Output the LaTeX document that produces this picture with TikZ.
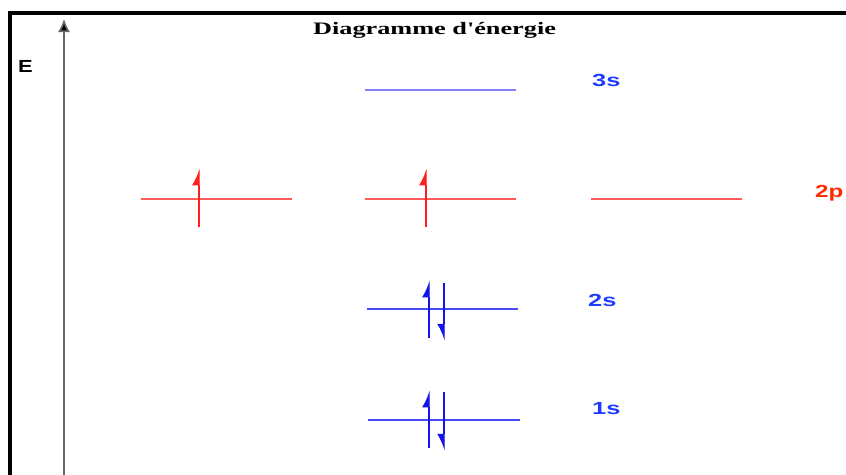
\documentclass[tikz,border=0pt]{standalone}
\usepackage{fontspec}
\setmainfont{Liberation Serif}
\setsansfont{Liberation Sans}
\usetikzlibrary{arrows.meta}
\definecolor{lvlblue}{HTML}{4A4AF5}
\definecolor{lvlblue3}{HTML}{8080FF}
\definecolor{arrblue}{HTML}{1414E6}
\definecolor{lblblue}{HTML}{1E3CFF}
\definecolor{lvlred}{HTML}{FF5A5A}
\definecolor{arrred}{HTML}{FF1E1E}
\definecolor{lblred}{HTML}{FF2A00}
\tikzset{
  lvl/.style={line width=1.2pt},
  spinup/.style={line width=1.4pt,-{Latex[harpoon,length=15pt,width=14pt]}},
  spindown/.style={line width=1.4pt,-{Latex[harpoon,swap,length=15pt,width=14pt]}},
  lbl/.style={inner sep=0pt,anchor=base west,font=\sffamily\bfseries\fontsize{17.5}{19}\selectfont},
}
\begin{document}
\begin{tikzpicture}[x=1pt,y=-1pt]
\useasboundingbox (0,0) rectangle (846,474);
\clip (0,0) rectangle (846,474);
% frame
\draw[line width=4pt] (10,480) -- (10,13) -- (850,13);
% energy axis
\coordinate (ax0) at (64,480);
\coordinate (ax1) at (64,19);
\draw[line width=1.6pt,draw=black!60,-{Latex[length=13pt,width=12pt,fill=black]}] (ax0) -- (ax1);
\node[inner sep=0pt,anchor=base west,font=\sffamily\bfseries\fontsize{17.5}{19}\selectfont] (E) at (18,72) {\scalebox{1.25}[1]{E}};
% title
\node[inner sep=0pt,anchor=base west,font=\rmfamily\bfseries\fontsize{17.5}{19}\selectfont] (title) at (313,34) {\scalebox{1.5}[1]{Diagramme d\textquotesingle énergie}};
% 3s
\coordinate (s3a) at (365,90); \coordinate (s3b) at (516,90);
\draw[lvl,lvlblue3] (s3a) -- (s3b);
\node[lbl,text=lblblue] (l3s) at (592,86) {\scalebox{1.45}[1]{3s}};
% 2p
\coordinate (p1a) at (141,199); \coordinate (p1b) at (292,199);
\coordinate (p2a) at (365,199); \coordinate (p2b) at (516,199);
\coordinate (p3a) at (591,199); \coordinate (p3b) at (742,199);
\draw[lvl,lvlred] (p1a) -- (p1b);
\draw[lvl,lvlred] (p2a) -- (p2b);
\draw[lvl,lvlred] (p3a) -- (p3b);
\coordinate (e1a) at (199,227); \coordinate (e1b) at (199,168);
\coordinate (e2a) at (426,227); \coordinate (e2b) at (426,168);
\draw[spinup,arrred] (e1a) -- (e1b);
\draw[spinup,arrred] (e2a) -- (e2b);
\node[lbl,text=lblred] (l2p) at (815,197) {\scalebox{1.38}[1]{2p}};
% 2s
\coordinate (s2a) at (367,309); \coordinate (s2b) at (518,309);
\draw[lvl,lvlblue] (s2a) -- (s2b);
\coordinate (u2a) at (429,338); \coordinate (u2b) at (429,280);
\coordinate (d2a) at (444,283); \coordinate (d2b) at (444,341);
\draw[spinup,arrblue] (u2a) -- (u2b);
\draw[spindown,arrblue] (d2a) -- (d2b);
\node[lbl,text=lblblue] (l2s) at (588,306) {\scalebox{1.45}[1]{2s}};
% 1s
\coordinate (s1a) at (368,420); \coordinate (s1b) at (520,420);
\draw[lvl,lvlblue] (s1a) -- (s1b);
\coordinate (u1a) at (429,448); \coordinate (u1b) at (429,390);
\coordinate (d1a) at (444,392); \coordinate (d1b) at (444,451);
\draw[spinup,arrblue] (u1a) -- (u1b);
\draw[spindown,arrblue] (d1a) -- (d1b);
\node[lbl,text=lblblue] (l1s) at (592,414) {\scalebox{1.45}[1]{1s}};
\end{tikzpicture}
\end{document}
